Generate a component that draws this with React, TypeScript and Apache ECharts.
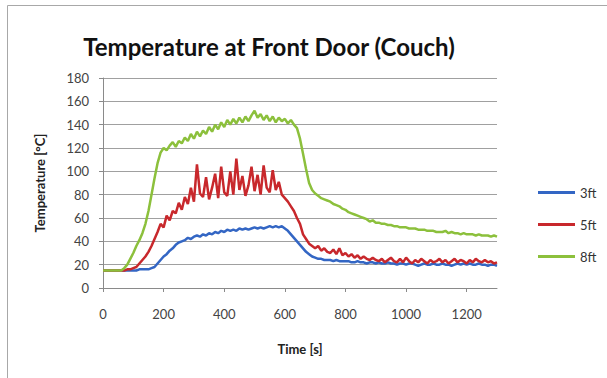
import React, { useEffect, useRef } from "react";
import * as echarts from "echarts";

const times: number[] = Array.from({ length: 131 }, (_, i) => i * 10);

const ft3: number[] = [
  15, 15, 15, 15, 15, 15, 15, 15, 15, 15, 15, 15, 16, 16, 16, 16, 17,
  18, 21, 24, 27, 29, 32, 34, 37, 39, 40, 41, 43, 42, 44, 45, 44, 46, 45, 47, 46, 48, 47, 49, 48,
  50, 49, 50, 49, 51, 50, 51, 50, 51, 52, 51, 52, 51, 52, 53, 52, 53, 52, 53, 51,
  49, 46, 43, 40, 37, 34, 31, 29, 27, 26, 25, 25, 24, 24, 24, 23, 24, 23, 23, 23,
  23, 22, 22, 23, 22, 22, 21, 22, 22, 21, 22, 21, 21, 22, 21, 21, 20, 21, 21, 20,
  21, 21, 20, 19, 20, 21, 20, 20, 21, 20, 20, 21, 20, 20, 19, 20, 21, 20, 21, 20,
  21, 20, 20, 21, 20, 20, 19, 20, 20, 19,
];

const ft5: number[] = [
  15, 15, 15, 15, 15, 15, 15, 15, 16, 16, 17, 18, 21, 24, 27, 31, 36, 42, 48, 55,
  52, 62, 58, 66, 64, 73, 67, 78, 72, 86, 74, 106, 81, 78, 95, 76, 86, 98, 77, 104,
  82, 79, 100, 80, 111, 84, 96, 79, 88, 104, 83, 97, 80, 105, 86, 82, 101, 84, 91, 80,
  77, 74, 70, 66, 60, 55, 46, 42, 38, 36, 34, 36, 32, 34, 31, 30, 33, 29, 34, 28,
  30, 27, 29, 26, 28, 25, 27, 25, 24, 26, 24, 23, 25, 22, 24, 26, 23, 22, 25, 22,
  26, 23, 21, 24, 22, 25, 23, 21, 24, 22, 23, 25, 22, 24, 21, 23, 25, 22, 24, 23,
  21, 24, 22, 25, 23, 22, 24, 22, 23, 21, 22,
];

const ft8: number[] = [
  15, 15, 15, 15, 15, 15, 15, 17, 20, 25, 30, 36, 41, 47, 55, 66, 80, 94, 107, 116,
  120, 118, 122, 125, 121, 126, 124, 129, 126, 132, 128, 134, 130, 135, 132, 138, 134, 140, 136, 142,
  138, 144, 140, 145, 141, 146, 142, 147, 143, 148, 152, 146, 149, 144, 148, 143, 147, 142, 146, 143,
  145, 141, 144, 140, 137, 128, 115, 102, 90, 84, 81, 79, 77, 76, 75, 74, 72, 71, 70, 68,
  67, 65, 64, 63, 62, 61, 60, 59, 57, 58, 56, 56, 55, 55, 54, 54, 53, 53, 52, 52,
  52, 51, 51, 51, 50, 50, 50, 49, 49, 49, 48, 48, 48, 49, 47, 48, 47, 47, 46, 47,
  46, 46, 46, 45, 46, 45, 45, 45, 44, 45, 44,
];

const seriesNames = ["3ft", "5ft", "8ft"];
const seriesColors = ["#3366c4", "#c8282c", "#8cc03c"];
const xTicks = [0, 200, 400, 600, 800, 1000, 1200];

const pairs = (vals: number[]) => vals.map((v, i) => [times[i], v]);

export default function App() {
  const ref = useRef<HTMLDivElement>(null);
  useEffect(() => {
    if (!ref.current) return;
    const chart = echarts.init(ref.current, null, { renderer: "svg" });
    const font = "Lato, 'Open Sans', sans-serif";
    chart.setOption({
      animation: false,
      backgroundColor: "#ffffff",
      graphic: [
        {
          type: "rect",
          shape: { x: 7.5, y: 5.5, width: 640, height: 420 },
          style: { fill: "none", stroke: "#a8a8a8", lineWidth: 1 },
          silent: true,
        },
      ],
      title: {
        text: "Temperature at Front Door (Couch)",
        left: 264,
        top: 29,
        textAlign: "center",
        textStyle: { fontFamily: font, fontWeight: "bold", fontSize: 24, color: "#111" },
      },
      legend: {
        orient: "vertical",
        left: 533,
        top: 181,
        itemWidth: 37,
        itemHeight: 3,
        itemGap: 19,
        icon: "rect",
        textStyle: { fontFamily: font, fontSize: 13, color: "#333" },
        data: seriesNames,
      },
      grid: { left: 103, right: 110, top: 78, bottom: 90 },
      xAxis: {
        type: "value",
        min: 0,
        max: 1300,
        interval: 200,
        name: "Time [s]",
        nameLocation: "middle",
        nameGap: 54,
        nameTextStyle: { fontFamily: font, fontWeight: "bold", fontSize: 13, color: "#222" },
        axisLine: { show: true, lineStyle: { color: "#8a8a8a", width: 1 } },
        axisTick: { show: true, length: 4, lineStyle: { color: "#8a8a8a" }, customValues: xTicks },
        axisLabel: {
          fontFamily: font,
          fontSize: 13,
          color: "#444",
          margin: 19,
          customValues: xTicks,
          formatter: (v: number) => String(v),
        },
        splitLine: { show: false },
      },
      yAxis: {
        type: "value",
        min: 0,
        max: 180,
        interval: 20,
        name: "Temperature [°C]",
        nameLocation: "middle",
        nameGap: 57,
        nameTextStyle: { fontFamily: font, fontWeight: "bold", fontSize: 13, color: "#222" },
        axisLine: { show: true, lineStyle: { color: "#8a8a8a", width: 1 } },
        axisTick: { show: true, length: 4, lineStyle: { color: "#8a8a8a" } },
        axisLabel: { fontFamily: font, fontSize: 13, color: "#444", margin: 14 },
        splitLine: { show: true, lineStyle: { color: "#a0a0a0", width: 1 } },
      },
      series: [ft3, ft5, ft8].map((vals, i) => ({
        name: seriesNames[i],
        type: "line",
        showSymbol: false,
        data: pairs(vals),
        lineStyle: { color: seriesColors[i], width: 2.5 },
        itemStyle: { color: seriesColors[i] },
      })),
    });
    return () => chart.dispose();
  }, []);
  return (
    <div
      ref={ref}
      style={{ position: "fixed", left: 0, top: 0, width: 607, height: 378 }}
    />
  );
}
